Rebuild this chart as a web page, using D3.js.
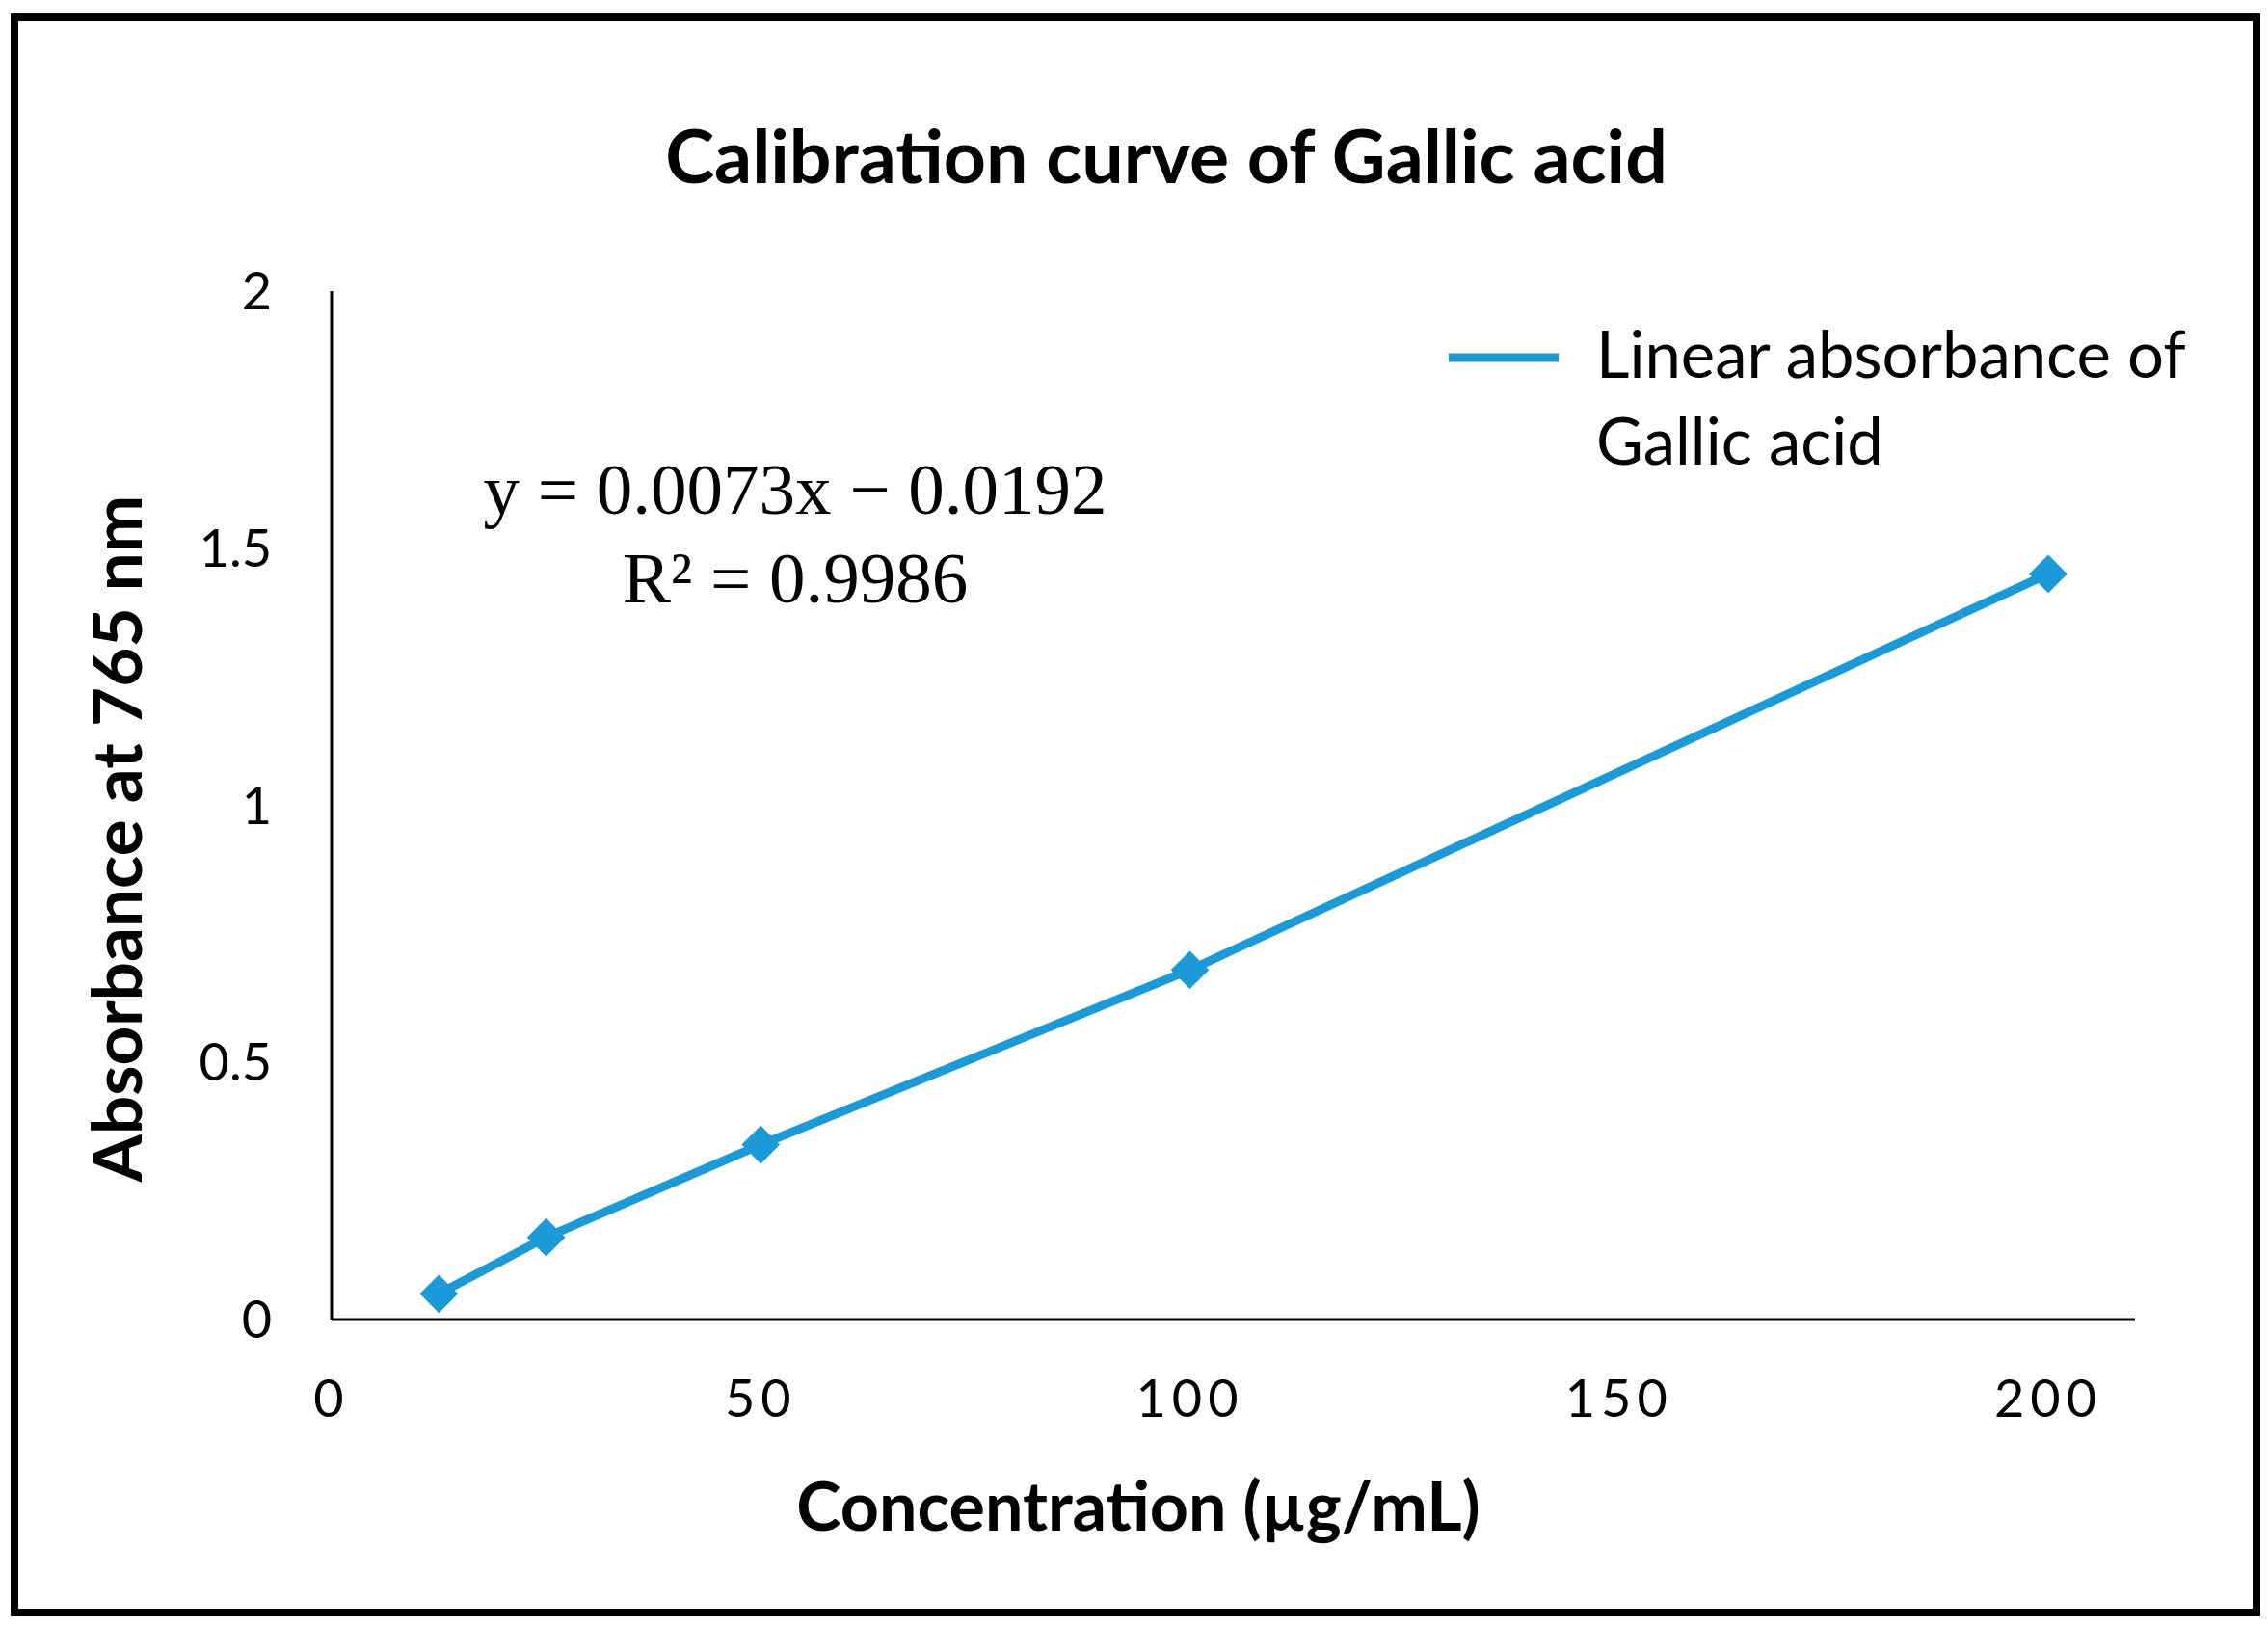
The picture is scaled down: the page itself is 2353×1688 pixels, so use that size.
<!DOCTYPE html>
<html><head><meta charset="utf-8">
<script src="https://cdn.jsdelivr.net/npm/d3@7"></script>
<style>body{margin:0;background:#fff}</style></head>
<body><svg id="c" width="2353" height="1688"></svg>
<script>
const conc = [12.5, 25, 50, 100, 200];
const absorb = [0.05, 0.16, 0.34, 0.68, 1.45];
const xTicks = [0, 50, 100, 150, 200];
const yTicks = [0, 0.5, 1, 1.5, 2];
const blue = '#1b9ad9';

const svg = d3.select('#c');
svg.append('rect').attr('x', 15).attr('y', 18).attr('width', 2326).attr('height', 1655)
  .attr('fill', 'none').attr('stroke', '#000').attr('stroke-width', 8);

const x = d3.scaleLinear().domain([0, 200]).range([344, 2125]);
const y = d3.scaleLinear().domain([0, 2]).range([1369, 302]);

// axes
svg.append('line').attr('x1', 344).attr('x2', 2215).attr('y1', y(0)).attr('y2', y(0)).attr('stroke', '#000').attr('stroke-width', 3);
svg.append('line').attr('x1', 344).attr('x2', 344).attr('y1', y(0)).attr('y2', y(2)).attr('stroke', '#000').attr('stroke-width', 3);

svg.selectAll('text.xt').data(xTicks).join('text').attr('class', 'xt')
  .attr('x', d => x(d)).attr('y', 1470).attr('text-anchor', 'middle')
  .style('font', '54px Lato').style('letter-spacing', '6px').text(d => d);
svg.selectAll('text.yt').data(yTicks).join('text').attr('class', 'yt')
  .attr('x', 282).attr('y', d => y(d) + 19).attr('text-anchor', 'end')
  .style('font', '54px Lato').text(d => d);

// line + markers
svg.append('path').datum(conc.map((c, i) => [c, absorb[i]]))
  .attr('d', d3.line().x(d => x(d[0])).y(d => y(d[1])))
  .attr('fill', 'none').attr('stroke', blue).attr('stroke-width', 9);
svg.selectAll('path.m').data(conc).join('path').attr('class', 'm')
  .attr('d', d3.symbol(d3.symbolDiamond2, 1000)())
  .attr('transform', (d, i) => `translate(${x(d)},${y(absorb[i])})`)
  .attr('fill', blue);

// texts
svg.append('text').attr('x', 1210).attr('y', 190).attr('text-anchor', 'middle')
  .style('font', 'bold 77px Lato').text('Calibration curve of Gallic acid');
svg.append('text').attr('x', 1181).attr('y', 1588).attr('text-anchor', 'middle')
  .style('font', 'bold 70px Lato').text('Concentration (µg/mL)');
svg.append('text').attr('transform', 'translate(147,870) rotate(-90)').attr('text-anchor', 'middle')
  .style('font', 'bold 71px Lato').text('Absorbance at 765 nm');

svg.append('text').attr('x', 825).attr('y', 533).attr('text-anchor', 'middle')
  .style('font', '75px "Liberation Serif"').text('y = 0.0073x − 0.0192');
svg.append('text').attr('x', 825).attr('y', 625).attr('text-anchor', 'middle')
  .style('font', '75px "Liberation Serif"').text('R² = 0.9986');

svg.append('line').attr('x1', 1503).attr('x2', 1617).attr('y1', 371).attr('y2', 371)
  .attr('stroke', blue).attr('stroke-width', 9);
svg.append('text').attr('x', 1656).attr('y', 392).style('font', '67px Lato').text('Linear absorbance of');
svg.append('text').attr('x', 1656).attr('y', 482).style('font', '67px Lato').text('Gallic acid');
</script></body></html>
